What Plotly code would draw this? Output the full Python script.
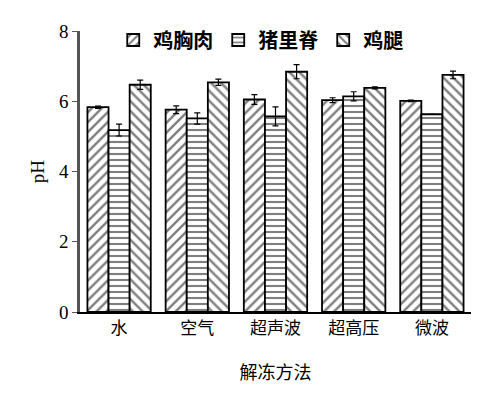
import plotly.graph_objects as go

methods = ["水", "空气", "超声波", "超高压", "微波"]
series_names = ["鸡胸肉", "猪里脊", "鸡腿"]
chicken_breast = [5.83, 5.76, 6.05, 6.03, 6.01]
chicken_breast_err = [0.03, 0.11, 0.14, 0.07, 0.02]
pork_loin = [5.18, 5.51, 5.57, 6.14, 5.63]
pork_loin_err = [0.17, 0.16, 0.27, 0.13, 0.0]
chicken_leg = [6.47, 6.54, 6.84, 6.38, 6.75]
chicken_leg_err = [0.13, 0.09, 0.20, 0.03, 0.11]

values = [chicken_breast, pork_loin, chicken_leg]
errors = [chicken_breast_err, pork_loin_err, chicken_leg_err]
shapes = ["/", "-", "\\"]
sizes = [7, 6, 7]

fig = go.Figure()
for name, v, e, s, sz in zip(series_names, values, errors, shapes, sizes):
    fig.add_trace(go.Bar(
        x=methods, y=v, name=name,
        error_y=dict(type="data", array=e, visible=True, color="black", thickness=1.2, width=3),
        marker=dict(color="white", line=dict(color="black", width=1.8),
                    pattern=dict(shape=s, fgcolor="black", bgcolor="white", size=sz, solidity=0.35)),
    ))

fig.update_layout(
    width=500, height=397,
    margin=dict(l=80, r=29, t=31, b=85, autoexpand=False),
    paper_bgcolor="white", plot_bgcolor="white",
    barmode="group", bargap=0.19, bargroupgap=0,
    showlegend=True,
    legend=dict(orientation="h", x=0.085, y=0.968, xanchor="left", yanchor="middle",
                font=dict(family="Noto Sans CJK SC", size=20, color="black", weight="bold"),
                bgcolor="rgba(0,0,0,0)", itemwidth=30, tracegroupgap=0),
    xaxis=dict(showline=True, linecolor="black", linewidth=1.5, ticks="", automargin=False,
               tickfont=dict(family="Noto Sans CJK SC", size=17, color="black"),
               title=dict(text="解冻方法", font=dict(family="Noto Sans CJK SC", size=18, color="black"), standoff=28)),
    yaxis=dict(range=[0, 8], tickvals=[0, 2, 4, 6, 8], showline=True, linecolor="#555555", linewidth=2.5,
               ticks="outside", ticklen=5, tickcolor="#555555", showgrid=False, zeroline=False, automargin=False,
               tickfont=dict(family="Liberation Serif", size=19, color="black"),
               title=dict(text="pH", font=dict(family="Liberation Serif", size=19, color="black"), standoff=10)),
)

fig.write_html("out.html", config={"displayModeBar": False},
               post_script="document.body.style.margin='0';")
